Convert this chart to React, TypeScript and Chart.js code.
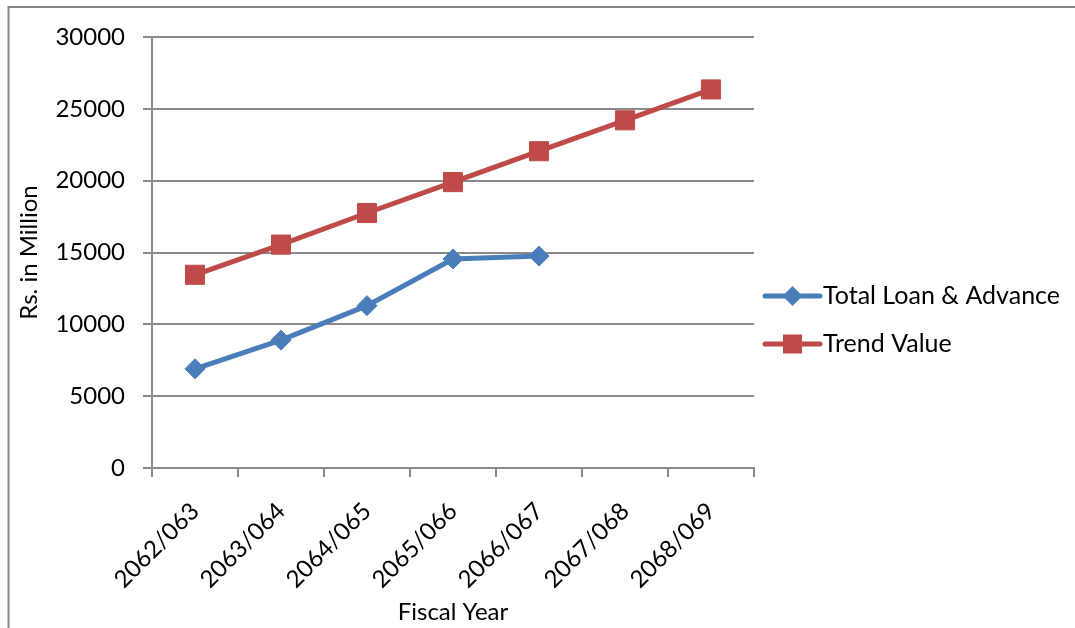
import React, { useEffect, useRef } from 'react';
import { Chart, registerables } from 'chart.js';

Chart.register(...registerables);

const categories = ['2062/063', '2063/064', '2064/065', '2065/066', '2066/067', '2067/068', '2068/069'];
const totalLoan = [6900, 8900, 11300, 14550, 14750];
const trendValue = [13450, 15550, 17750, 19900, 22050, 24200, 26350];
const seriesNames = ['Total Loan & Advance', 'Trend Value'];
const yMin = 0;
const yMax = 30000;
const yStep = 5000;

const FONT = 'Lato, "Open Sans", sans-serif';
const GRID = '#8a8a8a';

const framePlugin = {
  id: 'frame',
  afterDraw(chart: any) {
    const ctx = chart.ctx;
    ctx.save();
    ctx.strokeStyle = '#878787';
    ctx.lineWidth = 2;
    ctx.strokeRect(8.5, 7, 1200, 800);
    ctx.restore();
  },
};

const sideLegendPlugin = {
  id: 'sideLegend',
  afterDraw(chart: any) {
    const ctx = chart.ctx;
    const right = chart.chartArea.right;
    chart.data.datasets.forEach((ds: any, i: number) => {
      const y = 296 + i * 48;
      const x0 = right + 11;
      const x1 = right + 66;
      const xm = (x0 + x1) / 2;
      ctx.save();
      ctx.strokeStyle = ds.borderColor;
      ctx.lineWidth = 5;
      ctx.lineCap = 'round';
      ctx.beginPath();
      ctx.moveTo(x0, y);
      ctx.lineTo(x1, y);
      ctx.stroke();
      ctx.fillStyle = ds.pointBackgroundColor;
      ctx.beginPath();
      if (ds.pointStyle === 'rectRot') {
        const r = 10;
        ctx.moveTo(xm - r, y);
        ctx.lineTo(xm, y - r);
        ctx.lineTo(xm + r, y);
        ctx.lineTo(xm, y + r);
        ctx.closePath();
      } else {
        const s = 9.5;
        ctx.rect(xm - s, y - s, 2 * s, 2 * s);
      }
      ctx.fill();
      ctx.fillStyle = '#000';
      ctx.font = `25px ${FONT}`;
      ctx.textBaseline = 'middle';
      ctx.textAlign = 'left';
      ctx.fillText(ds.label, x1 + 3, y);
      ctx.restore();
    });
  },
};

export default function App() {
  const ref = useRef<HTMLCanvasElement | null>(null);

  useEffect(() => {
    if (!ref.current) return;
    const chart = new Chart(ref.current, {
      type: 'line',
      data: {
        labels: categories,
        datasets: [
          {
            label: seriesNames[0],
            data: totalLoan,
            borderColor: '#4A7EBB',
            backgroundColor: '#4A7EBB',
            pointBackgroundColor: '#4A7EBB',
            pointBorderColor: '#4A7EBB',
            pointStyle: 'rectRot',
            pointRadius: 10,
            pointBorderWidth: 1,
            borderWidth: 5,
            tension: 0,
          },
          {
            label: seriesNames[1],
            data: trendValue,
            borderColor: '#BE4B48',
            backgroundColor: '#BE4B48',
            pointBackgroundColor: '#BE4B48',
            pointBorderColor: '#BE4B48',
            pointStyle: 'rect',
            pointRadius: 13.5,
            pointBorderWidth: 1,
            borderWidth: 5,
            tension: 0,
          },
        ],
      },
      options: {
        animation: false,
        responsive: true,
        maintainAspectRatio: false,
        layout: { padding: { top: 37, right: 321, left: 0, bottom: 0 } },
        plugins: {
          legend: { display: false },
          tooltip: { enabled: false },
        },
        scales: {
          x: {
            type: 'category',
            offset: true,
            grid: {
              offset: true,
              drawOnChartArea: false,
              drawTicks: true,
              tickLength: 9,
              color: GRID,
              lineWidth: 2,
            },
            border: { display: true, color: GRID, width: 2 },
            ticks: {
              minRotation: 45,
              maxRotation: 45,
              padding: 20,
              color: '#000',
              font: { family: FONT, size: 24 },
            },
            title: {
              display: true,
              text: 'Fiscal Year',
              color: '#000',
              font: { family: FONT, size: 24 },
              padding: { top: 0, bottom: 1 },
            },
            afterFit: (scale: any) => {
              scale.height = 160;
            },
          },
          y: {
            min: yMin,
            max: yMax,
            ticks: {
              stepSize: yStep,
              padding: 18,
              color: '#000',
              font: { family: FONT, size: 24 },
              callback: (v: any) => String(v),
            },
            grid: {
              color: GRID,
              lineWidth: 2,
              tickLength: 9,
            },
            border: { display: true, color: GRID, width: 2 },
            title: {
              display: true,
              text: 'Rs. in Million',
              color: '#000',
              font: { family: FONT, size: 24 },
              padding: { top: 15, bottom: 0 },
            },
            afterFit: (scale: any) => {
              scale.width = 152;
            },
          },
        },
      },
      plugins: [framePlugin, sideLegendPlugin],
    });
    return () => chart.destroy();
  }, []);

  return (
    <div style={{ position: 'fixed', left: 0, top: 0, width: 1075, height: 628, background: '#fff' }}>
      <canvas ref={ref} />
    </div>
  );
}
